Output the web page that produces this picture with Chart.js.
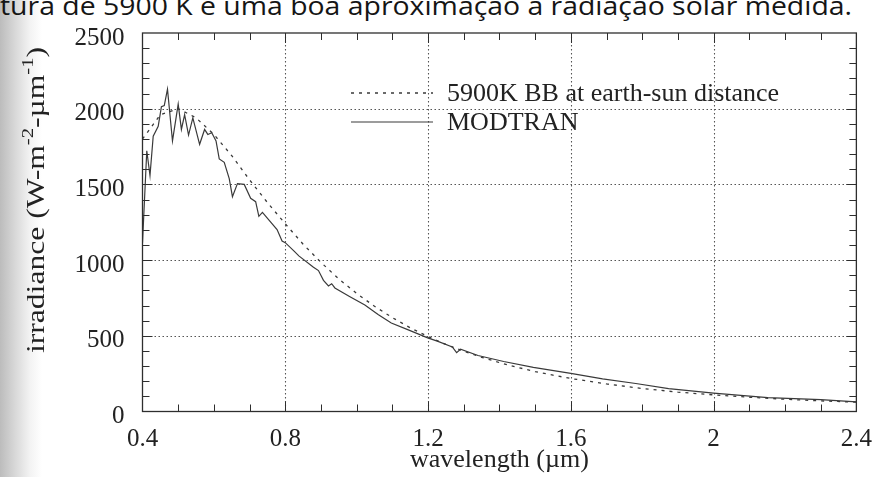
<!DOCTYPE html>
<html>
<head>
<meta charset="utf-8">
<script src="https://cdn.jsdelivr.net/npm/chart.js@4"></script>
<style>
  html, body { margin: 0; padding: 0; }
  body {
    width: 885px; height: 477px; overflow: hidden; position: relative;
    background: linear-gradient(to right, #bcbcbc 0px, #d6d6d6 14px, #f3f3f3 30px, #ffffff 42px);
  }
  #caption {
    position: absolute; left: 0; top: -13px; line-height: 26px;
    font: 26px "Open Sans", sans-serif; color: #151515; white-space: nowrap;
    transform-origin: 0 0;
  }
  #wrap { position: absolute; left: 0; top: 0; width: 885px; height: 477px; }
</style>
</head>
<body>
<div id="caption">tura de 5900 K é uma boa aproximação à radiação solar medida.</div>
<div id="wrap"><canvas id="chart" width="885" height="477"></canvas></div>
<script>
// 5900 K blackbody at earth-sun distance (dotted)
const bbWavelength = [0.40, 0.45, 0.50, 0.55, 0.60, 0.65, 0.70, 0.75, 0.80, 0.85, 0.90, 0.95, 1.00, 1.05, 1.10, 1.15, 1.20, 1.25, 1.30, 1.35, 1.40, 1.45, 1.50, 1.55, 1.60, 1.70, 1.80, 1.90, 2.00, 2.10, 2.20, 2.30, 2.40];
const bbIrradiance = [1800, 1960, 2000, 1940, 1830, 1690, 1530, 1380, 1240, 1105, 985, 875, 780, 695, 620, 553, 495, 443, 398, 358, 323, 292, 264, 240, 218, 182, 152, 128, 110, 94, 81, 70, 62];

// MODTRAN (solid)
const modWavelength = [0.400, 0.412, 0.421, 0.430, 0.444, 0.453, 0.461, 0.470, 0.484, 0.500, 0.509, 0.518, 0.529, 0.541, 0.560, 0.574, 0.583, 0.594, 0.606, 0.615, 0.629, 0.643, 0.652, 0.666, 0.685, 0.703, 0.717, 0.726, 0.736, 0.777, 0.791, 0.800, 0.824, 0.838, 0.879, 0.893, 0.907, 0.921, 0.930, 0.939, 0.980, 1.023, 1.060, 1.097, 1.143, 1.199, 1.226, 1.268, 1.280, 1.291, 1.340, 1.412, 1.495, 1.600, 1.689, 1.782, 1.874, 2.000, 2.152, 2.300, 2.400];
const modIrradiance = [1115, 1722, 1559, 1819, 1884, 2014, 2021, 2129, 1787, 2030, 1863, 1960, 1826, 1939, 1765, 1863, 1830, 1841, 1787, 1668, 1646, 1538, 1419, 1505, 1500, 1408, 1386, 1289, 1315, 1202, 1126, 1115, 1061, 1028, 953, 931, 866, 829, 844, 816, 760, 703, 640, 584, 541, 486, 465, 426, 389, 411, 370, 330, 291, 252, 216, 185, 151, 122, 92, 79, 64];

const xTicks = [0.4, 0.8, 1.2, 1.6, 2, 2.4];
const yTicks = [0, 500, 1000, 1500, 2000, 2500];

const ink = "#2e2e2e";
const serif = '"Liberation Serif", "Times New Roman", serif';

// fit the scanned caption line to the page width
const cap = document.getElementById("caption");
cap.style.transform = "scaleX(" + (852 / cap.getBoundingClientRect().width) + ")";

const toPoints = (xs, ys) => xs.map((x, i) => ({ x: x, y: ys[i] }));

const framePlugin = {
  id: "frame",
  beforeDatasetsDraw(chart) {
    const { ctx, chartArea: a, scales: { x, y } } = chart;
    ctx.save();
    ctx.strokeStyle = "#555";
    ctx.lineWidth = 1.1;
    ctx.setLineDash([1.5, 2.5]);
    xTicks.slice(1, -1).forEach((v) => {
      const px = Math.round(x.getPixelForValue(v)) + 0.5;
      ctx.beginPath(); ctx.moveTo(px, a.top); ctx.lineTo(px, a.bottom); ctx.stroke();
    });
    yTicks.slice(1, -1).forEach((v) => {
      const py = Math.round(y.getPixelForValue(v)) + 0.5;
      ctx.beginPath(); ctx.moveTo(a.left, py); ctx.lineTo(a.right, py); ctx.stroke();
    });
    ctx.restore();
  },
  afterDatasetsDraw(chart) {
    const { ctx, chartArea: a, scales: { x, y } } = chart;
    ctx.save();
    ctx.strokeStyle = ink;
    ctx.lineWidth = 1.3;
    ctx.strokeRect(a.left, a.top, a.right - a.left, a.bottom - a.top);

    // inward ticks on all four sides
    ctx.lineWidth = 1;
    ctx.beginPath();
    for (let k = 5; k < 24; k++) {
      const px = Math.round(x.getPixelForValue(k / 10)) + 0.5;
      const len = k % 4 === 0 ? 10 : 7;
      ctx.moveTo(px, a.bottom); ctx.lineTo(px, a.bottom - len);
      ctx.moveTo(px, a.top); ctx.lineTo(px, a.top + len);
    }
    for (let k = 1; k < 25; k++) {
      const py = Math.round(y.getPixelForValue(k * 100)) + 0.5;
      const len = k % 5 === 0 ? 10 : 7;
      ctx.moveTo(a.left, py); ctx.lineTo(a.left + len, py);
      ctx.moveTo(a.right, py); ctx.lineTo(a.right - len, py);
    }
    ctx.stroke();

    // legend inside the plot
    ctx.fillStyle = "#222";
    ctx.font = "26px " + serif;
    ctx.textBaseline = "middle";
    chart.data.datasets.forEach((ds, i) => {
      const ly = 93 + i * 29;
      ctx.strokeStyle = ds.borderColor;
      ctx.lineWidth = ds.borderWidth;
      ctx.setLineDash(ds.borderDash || []);
      ctx.beginPath(); ctx.moveTo(351, ly); ctx.lineTo(433, ly); ctx.stroke();
      ctx.setLineDash([]);
      ctx.fillText(ds.label, 447, ly + 1);
    });

    // y axis title with superscripts, stretched like the scan
    ctx.translate(35, 200);
    ctx.rotate(-Math.PI / 2);
    const parts = [["irradiance (W-m", 0], ["-2", 1], ["-\u00b5m", 0], ["-1", 1], [")", 0]];
    const big = "26px " + serif, small = "17px " + serif;
    let total = 0;
    parts.forEach(([t, s]) => { ctx.font = s ? small : big; total += ctx.measureText(t).width; });
    ctx.scale(306 / total, 1);
    let cx = -total / 2;
    ctx.textBaseline = "alphabetic";
    parts.forEach(([t, s]) => {
      ctx.font = s ? small : big;
      ctx.fillText(t, cx, s ? -2 : 9);
      cx += ctx.measureText(t).width;
    });
    ctx.restore();
  },
};

new Chart(document.getElementById("chart"), {
  type: "line",
  data: {
    datasets: [
      {
        label: "5900K BB at earth-sun distance",
        data: toPoints(bbWavelength, bbIrradiance),
        borderColor: "#3a3a3a",
        borderWidth: 1.3,
        borderDash: [3, 5],
        pointRadius: 0,
        tension: 0,
      },
      {
        label: "MODTRAN",
        data: toPoints(modWavelength, modIrradiance),
        borderColor: "#3a3a3a",
        borderWidth: 1.2,
        pointRadius: 0,
        tension: 0,
      },
    ],
  },
  options: {
    responsive: false,
    animation: false,
    events: [],
    layout: { padding: { left: 55, top: 27, right: 22.5, bottom: 0 } },
    plugins: { legend: { display: false }, tooltip: { enabled: false } },
    scales: {
      x: {
        type: "linear",
        min: 0.4,
        max: 2.4,
        afterBuildTicks: (s) => { s.ticks = xTicks.map((v) => ({ value: v })); },
        afterFit: (s) => { s.height = 65.5; },
        grid: { display: false, drawTicks: false },
        border: { display: false },
        ticks: {
          color: "#222",
          padding: 13,
          maxRotation: 0,
          font: { family: serif, size: 25 },
          callback: (v) => String(+v.toFixed(1)),
        },
        title: {
          display: true,
          text: "wavelength (\u00b5m)",
          color: "#222",
          font: { family: serif, size: 26 },
          padding: { top: 0, bottom: 1 },
        },
      },
      y: {
        min: 0,
        max: 2500,
        afterBuildTicks: (s) => { s.ticks = yTicks.map((v) => ({ value: v })); },
        afterFit: (s) => { s.width = 87.5; },
        grid: { display: false, drawTicks: false },
        border: { display: false },
        ticks: {
          color: "#222",
          padding: 18,
          labelOffset: 5,
          font: { family: serif, size: 25 },
          callback: (v) => String(v),
        },
      },
    },
  },
  plugins: [framePlugin],
});
</script>
</body>
</html>
